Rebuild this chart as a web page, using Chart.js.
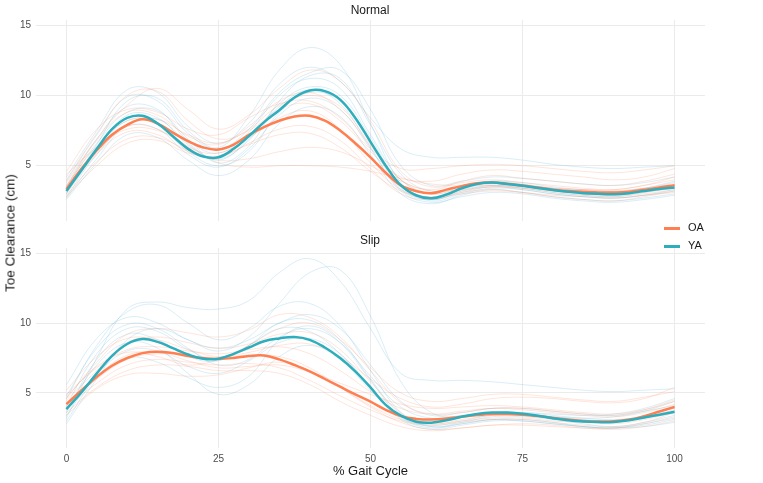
<!DOCTYPE html>
<html>
<head>
<meta charset="utf-8">
<script src="https://cdn.jsdelivr.net/npm/chart.js@4/dist/chart.umd.min.js"></script>
<style>
  body { margin: 0; background: #fff; font-family: "Liberation Sans", Arial, sans-serif; }
  #wrap { position: relative; width: 763px; height: 483px; }
  canvas { position: absolute; left: 0; }
  .txt { position: absolute; color: #1a1a1a; white-space: nowrap; font-weight: normal; }
  .strip { font-size: 12px; transform: translate(-50%, -50%); }
  .key { position: absolute; left: 664px; font-size: 11px; color: #1a1a1a; }
  .key span { display: inline-block; width: 16px; height: 3px; vertical-align: middle; margin-right: 8px; }
</style>
</head>
<body>
<div id="wrap">
  <canvas id="normalChart" width="705" height="232" style="top:0"></canvas>
  <canvas id="slipChart" width="705" height="255" style="top:228px"></canvas>
  <div class="txt strip" style="left:370px; top:10px">Normal</div>
  <div class="txt strip" style="left:370px; top:240px">Slip</div>
  <div class="txt" style="left:10px; top:233px; font-size:13.5px; transform:translate(-50%,-50%) rotate(-90deg)">Toe Clearance (cm)</div>
  <div class="key" style="top:221px"><span style="background:#FF7F50"></span>OA</div>
  <div class="key" style="top:239px"><span style="background:#2EADBD"></span>YA</div>
</div>
<script>
// x positions (% gait cycle)
const gaitX = [0, 5, 10, 15, 20, 25, 30, 35, 40, 45, 50, 55, 60, 65, 70, 75, 80, 85, 90, 95, 100];
const meanX = [0, 2.5, 5, 7.5, 10, 12.5, 15, 17.5, 20, 22.5, 25, 27.5, 30, 32.5, 35, 37.5, 40, 42.5, 45, 47.5,
               50, 52.5, 55, 57.5, 60, 62.5, 65, 67.5, 70, 72.5, 75, 77.5, 80, 82.5, 85, 87.5, 90, 92.5, 95, 97.5, 100];
const xTicks = [0, 25, 50, 75, 100];
const yTicks = [5, 10, 15];
const groups = ['OA', 'YA'];

// group means
const normalOAMean = [3.35, 4.8, 6.1, 7.2, 7.9, 8.3, 8.0, 7.35, 6.75, 6.3, 6.15, 6.5, 7.2, 7.75, 8.2, 8.5, 8.55, 8.2, 7.5, 6.6,
                      5.6, 4.5, 3.6, 3.2, 3.05, 3.3, 3.55, 3.75, 3.8, 3.72, 3.6, 3.45, 3.3, 3.2, 3.15, 3.1, 3.1, 3.15, 3.3, 3.45, 3.62];
const normalYAMean = [3.2, 4.7, 6.2, 7.6, 8.4, 8.55, 8.0, 7.1, 6.2, 5.65, 5.6, 6.2, 7.1, 8.1, 8.95, 9.85, 10.35, 10.3, 9.7, 8.4,
                      6.7, 5.0, 3.6, 2.9, 2.68, 2.95, 3.4, 3.7, 3.8, 3.7, 3.57, 3.42, 3.28, 3.15, 3.05, 3.0, 2.98, 3.05, 3.2, 3.35, 3.45];
const slipOAMean = [4.2, 5.2, 6.15, 6.95, 7.5, 7.85, 7.95, 7.85, 7.65, 7.48, 7.43, 7.5, 7.64, 7.68, 7.4, 7.0, 6.55, 6.0, 5.45, 4.9,
                    4.38, 3.8, 3.35, 3.15, 3.1, 3.17, 3.3, 3.42, 3.5, 3.5, 3.45, 3.35, 3.22, 3.1, 3.0, 2.96, 2.98, 3.1, 3.35, 3.68, 4.0];
const slipYAMean = [3.85, 5.05, 6.4, 7.65, 8.5, 8.85, 8.65, 8.2, 7.75, 7.45, 7.45, 7.8, 8.25, 8.7, 8.9, 9.0, 8.8, 8.25, 7.5, 6.55,
                    5.4, 4.15, 3.38, 2.95, 2.88, 3.05, 3.3, 3.5, 3.6, 3.6, 3.52, 3.38, 3.2, 3.05, 2.96, 2.92, 2.93, 3.05, 3.25, 3.45, 3.66];

// individual participants, sampled at gaitX
const normalOATrials = [
  [3.8, 6.9, 9.3, 10.5, 9.0, 7.6, 8.6, 10.5, 11.8, 11.0, 8.2, 4.6, 3.5, 3.8, 4.0, 3.8, 3.6, 3.4, 3.3, 3.6, 4.2],
  [2.9, 5.3, 6.9, 7.0, 6.1, 5.4, 5.5, 6.0, 6.3, 6.0, 5.0, 3.9, 3.2, 3.3, 3.5, 3.4, 3.2, 3.0, 2.9, 3.1, 3.4],
  [4.4, 6.3, 7.6, 7.5, 6.4, 5.2, 4.9, 5.0, 5.0, 4.9, 4.6, 4.1, 3.7, 3.6, 3.6, 3.5, 3.4, 3.3, 3.2, 3.4, 3.7],
  [3.5, 6.8, 8.8, 8.6, 7.1, 6.5, 7.8, 9.6, 10.2, 9.0, 6.4, 4.0, 3.3, 3.9, 4.3, 4.1, 3.9, 3.7, 3.6, 3.9, 4.4],
  [3.0, 5.8, 7.4, 7.2, 6.0, 5.6, 6.6, 7.6, 7.8, 6.8, 4.8, 3.0, 2.6, 3.1, 3.3, 3.1, 2.8, 2.6, 2.5, 2.8, 3.2],
  [4.0, 7.3, 10.0, 10.3, 8.2, 6.9, 7.5, 9.0, 9.4, 8.2, 6.0, 4.2, 3.9, 4.4, 4.7, 4.6, 4.4, 4.2, 4.0, 4.2, 4.8],
  [3.2, 5.9, 7.8, 7.6, 6.3, 5.9, 7.0, 8.4, 8.9, 7.6, 5.2, 3.3, 2.8, 3.2, 3.5, 3.4, 3.1, 2.9, 2.8, 3.0, 3.3],
  [3.6, 6.4, 8.2, 8.3, 7.2, 6.6, 7.6, 9.3, 10.0, 9.2, 6.5, 4.0, 3.0, 3.4, 3.7, 3.6, 3.4, 3.3, 3.3, 3.6, 4.0],
  [2.8, 5.0, 6.6, 6.8, 5.9, 5.7, 6.5, 7.2, 7.3, 6.3, 4.6, 3.2, 2.7, 3.0, 3.2, 3.1, 2.9, 2.8, 2.7, 2.9, 3.1],
  [4.6, 7.6, 9.0, 8.8, 7.6, 7.2, 8.4, 9.4, 9.6, 8.4, 6.2, 4.8, 4.8, 5.0, 5.1, 5.0, 4.8, 4.6, 4.5, 4.7, 5.0]
];
const normalYATrials = [
  [3.0, 6.5, 9.6, 9.8, 7.5, 6.3, 8.5, 11.8, 13.4, 12.2, 8.0, 3.8, 2.6, 3.2, 3.6, 3.4, 3.1, 2.9, 2.8, 3.1, 3.5],
  [2.6, 5.2, 7.2, 7.0, 5.4, 4.3, 5.4, 8.0, 9.2, 8.5, 5.8, 3.0, 2.3, 2.9, 3.3, 3.1, 2.8, 2.6, 2.5, 2.7, 3.0],
  [3.6, 6.9, 9.2, 9.0, 6.8, 5.9, 7.4, 10.0, 11.2, 10.5, 7.2, 4.0, 3.0, 3.5, 3.9, 3.8, 3.5, 3.3, 3.2, 3.4, 3.8],
  [3.3, 6.2, 8.6, 8.4, 6.5, 5.5, 6.8, 9.4, 10.6, 10.0, 7.0, 3.6, 2.5, 3.0, 3.4, 3.3, 3.0, 2.8, 2.7, 2.9, 3.3],
  [4.2, 7.5, 10.4, 10.2, 7.8, 6.6, 8.0, 10.8, 12.0, 11.0, 8.4, 6.2, 5.6, 5.6, 5.6, 5.4, 5.1, 4.9, 4.8, 4.9, 5.0],
  [2.8, 5.8, 7.8, 7.6, 5.8, 4.9, 6.2, 8.6, 9.8, 9.0, 6.2, 3.2, 2.4, 2.8, 3.1, 3.0, 2.7, 2.5, 2.4, 2.6, 2.9],
  [3.5, 6.6, 8.8, 8.9, 6.9, 5.2, 6.4, 9.6, 11.4, 11.2, 7.9, 4.4, 3.2, 3.6, 3.9, 3.7, 3.4, 3.2, 3.1, 3.4, 3.9],
  [3.1, 6.0, 8.2, 7.9, 6.0, 5.0, 6.0, 8.8, 10.2, 9.6, 6.6, 3.4, 2.7, 3.3, 3.6, 3.5, 3.2, 3.0, 2.9, 3.2, 3.6],
  [3.9, 7.2, 9.9, 9.6, 7.3, 6.2, 7.6, 10.2, 11.6, 11.8, 9.0, 5.0, 3.6, 3.9, 4.2, 4.1, 3.9, 3.7, 3.6, 3.8, 4.2],
  [2.7, 5.5, 7.9, 8.3, 6.6, 5.4, 6.9, 9.2, 10.4, 9.4, 6.3, 3.3, 2.6, 3.1, 3.5, 3.3, 3.0, 2.8, 2.7, 2.9, 3.2]
];
const slipOATrials = [
  [4.6, 7.2, 9.2, 9.6, 9.3, 9.0, 9.5, 10.6, 10.4, 9.0, 6.6, 4.3, 3.5, 3.6, 3.9, 3.9, 3.7, 3.5, 3.4, 3.8, 4.5],
  [3.6, 5.4, 6.6, 7.0, 6.9, 6.6, 6.6, 6.4, 5.6, 4.4, 3.4, 2.6, 2.3, 2.5, 2.7, 2.7, 2.6, 2.5, 2.5, 2.8, 3.3],
  [4.9, 6.8, 8.1, 8.3, 8.0, 7.8, 8.1, 8.3, 7.8, 6.6, 5.1, 3.9, 3.5, 3.7, 3.9, 3.8, 3.6, 3.4, 3.3, 3.6, 4.2],
  [3.9, 5.7, 7.0, 7.4, 7.2, 7.0, 7.1, 6.8, 5.9, 4.8, 3.8, 3.0, 2.7, 2.9, 3.1, 3.1, 2.9, 2.7, 2.6, 2.9, 3.6],
  [5.2, 7.6, 8.9, 8.8, 8.1, 7.6, 7.9, 8.4, 8.5, 7.6, 6.0, 4.6, 4.0, 4.2, 4.6, 4.7, 4.6, 4.4, 4.3, 4.6, 5.4],
  [4.2, 6.0, 7.4, 7.8, 7.7, 7.5, 7.7, 7.6, 6.8, 5.4, 4.0, 2.9, 2.4, 2.5, 2.7, 2.8, 2.7, 2.5, 2.4, 2.6, 3.0],
  [3.4, 5.3, 6.3, 6.4, 6.2, 6.3, 6.8, 7.2, 6.6, 5.4, 4.1, 3.1, 2.8, 3.0, 3.2, 3.2, 3.0, 2.9, 2.8, 3.1, 3.6],
  [4.5, 6.6, 8.6, 9.0, 8.6, 8.2, 8.5, 9.2, 9.3, 8.1, 5.8, 3.6, 2.8, 3.1, 3.4, 3.4, 3.2, 3.0, 2.9, 3.3, 4.0],
  [4.0, 6.2, 7.7, 7.9, 7.3, 6.8, 6.9, 7.0, 6.5, 5.7, 4.9, 4.2, 3.9, 4.0, 4.1, 4.0, 3.8, 3.6, 3.5, 3.8, 4.4],
  [4.7, 6.9, 7.9, 7.6, 7.0, 7.4, 8.4, 9.6, 10.0, 8.8, 6.8, 5.0, 4.4, 4.6, 4.9, 4.9, 4.7, 4.5, 4.4, 4.7, 5.1]
];
const slipYATrials = [
  [3.2, 7.5, 11.0, 11.5, 11.1, 11.0, 11.6, 13.6, 14.6, 13.0, 9.6, 6.4, 5.9, 5.9, 5.8, 5.6, 5.4, 5.2, 5.1, 5.2, 5.3],
  [2.8, 6.0, 8.8, 9.6, 8.8, 8.0, 9.0, 11.4, 13.6, 13.8, 10.5, 5.8, 3.6, 3.3, 3.5, 3.5, 3.3, 3.1, 3.0, 3.2, 3.6],
  [4.6, 8.4, 10.8, 11.3, 10.0, 8.8, 9.6, 11.2, 11.4, 9.8, 6.6, 3.6, 2.6, 2.9, 3.3, 3.3, 3.1, 2.8, 2.6, 2.9, 3.4],
  [3.8, 7.0, 8.6, 8.2, 6.4, 4.9, 5.6, 7.6, 8.4, 7.4, 5.2, 3.2, 2.5, 2.8, 3.1, 3.1, 2.9, 2.6, 2.5, 2.7, 3.1],
  [5.6, 8.9, 10.4, 10.0, 8.8, 8.2, 8.8, 10.0, 10.6, 9.6, 7.0, 4.4, 3.4, 3.6, 3.9, 3.9, 3.7, 3.5, 3.4, 3.7, 4.1],
  [3.4, 6.3, 8.0, 8.0, 6.9, 6.4, 7.3, 8.6, 8.9, 7.8, 5.4, 3.1, 2.4, 2.7, 3.0, 3.0, 2.8, 2.6, 2.5, 2.8, 3.2],
  [4.1, 7.8, 9.6, 9.4, 8.1, 7.4, 8.4, 10.0, 10.2, 8.8, 6.0, 3.5, 2.9, 3.3, 3.6, 3.6, 3.4, 3.2, 3.1, 3.3, 3.8],
  [3.0, 6.1, 7.5, 7.2, 6.1, 5.4, 6.2, 8.8, 9.8, 8.6, 5.9, 3.3, 2.6, 2.8, 3.1, 3.0, 2.8, 2.6, 2.5, 2.6, 2.9],
  [4.8, 8.2, 9.9, 9.6, 8.2, 7.0, 7.4, 9.0, 9.6, 8.6, 6.2, 4.0, 3.2, 3.4, 3.6, 3.6, 3.5, 3.4, 3.5, 3.9, 4.6],
  [3.6, 7.4, 9.2, 8.8, 7.6, 7.3, 8.4, 9.6, 9.4, 7.8, 5.4, 3.3, 2.7, 3.0, 3.4, 3.4, 3.3, 3.2, 3.3, 3.7, 4.4]
];

const oaColor = '#FF7F50';
const yaColor = '#2EADBD';
const oaFaint = 'rgba(255, 127, 80, 0.2)';
const yaFaint = 'rgba(70, 170, 210, 0.2)';
const gridColor = '#EBEBEB';
const tickColor = '#4D4D4D';

function pts(xs, ys) {
  return ys.map((y, i) => ({ x: xs[i], y: y }));
}

function makePanel(id, oaTrials, yaTrials, oaMean, yaMean, showX) {
  const datasets = [];
  oaTrials.forEach(t => datasets.push({
    label: groups[0], data: pts(gaitX, t), borderColor: oaFaint, borderWidth: 1, order: 2
  }));
  yaTrials.forEach(t => datasets.push({
    label: groups[1], data: pts(gaitX, t), borderColor: yaFaint, borderWidth: 1, order: 2
  }));
  datasets.push({ label: groups[0], data: pts(meanX, oaMean), borderColor: oaColor, borderWidth: 2.5, order: 1 });
  datasets.push({ label: groups[1], data: pts(meanX, yaMean), borderColor: yaColor, borderWidth: 2.5, order: 0 });

  new Chart(document.getElementById(id), {
    type: 'line',
    data: { datasets: datasets },
    options: {
      responsive: false,
      animation: false,
      events: [],
      elements: { point: { radius: 0 }, line: { tension: 0.4, fill: false } },
      layout: { padding: { top: 20, left: 0, right: 0, bottom: 0 } },
      plugins: { legend: { display: false }, tooltip: { enabled: false } },
      scales: {
        x: {
          type: 'linear',
          min: -5,
          max: 105,
          afterBuildTicks: s => { s.ticks = xTicks.map(v => ({ value: v })); },
          afterFit: s => { s.height = showX ? 35 : 0; },
          grid: { color: gridColor, drawTicks: false },
          border: { display: false },
          ticks: { display: showX, padding: 5, color: tickColor, font: { size: 10, family: 'Liberation Sans' } },
          title: {
            display: showX, text: '% Gait Cycle', color: '#1a1a1a',
            padding: { top: 2, bottom: 4 }, font: { size: 13, family: 'Liberation Sans' }
          }
        },
        y: {
          min: 1.07,
          max: 15.36,
          afterBuildTicks: s => { s.ticks = yTicks.map(v => ({ value: v })); },
          afterFit: s => { s.width = 36; },
          grid: { color: gridColor, drawTicks: false },
          border: { display: false },
          ticks: { padding: 5, color: tickColor, font: { size: 10, family: 'Liberation Sans' } }
        }
      }
    }
  });
}

makePanel('normalChart', normalOATrials, normalYATrials, normalOAMean, normalYAMean, false);
makePanel('slipChart', slipOATrials, slipYATrials, slipOAMean, slipYAMean, true);
</script>
</body>
</html>
